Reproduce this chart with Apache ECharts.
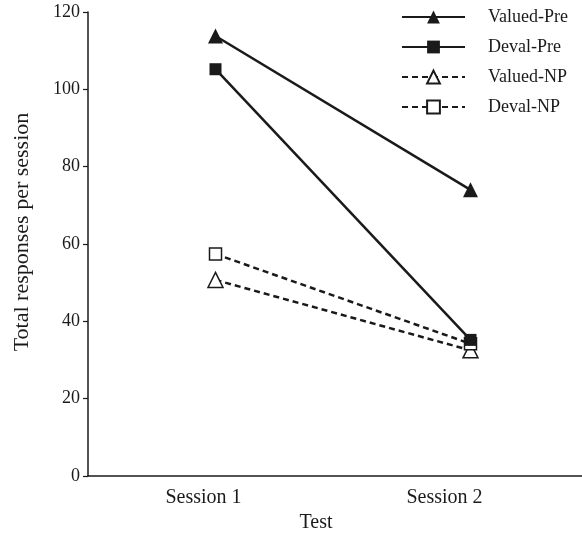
<!DOCTYPE html>
<html>
<head>
<meta charset="utf-8">
<script src="https://cdn.jsdelivr.net/npm/echarts@6/dist/echarts.min.js"></script>
<style>
  html, body { margin: 0; padding: 0; background: #fff; overflow: hidden; }
  #chart { width: 582px; height: 533px; }
</style>
</head>
<body>
<div id="chart"></div>
<script>
// data
var sessions = ['Session 1', 'Session 2'];
var seriesNames = ['Valued-Pre', 'Deval-Pre', 'Valued-NP', 'Deval-NP'];
var valuedPre = [113.8, 74];
var devalPre = [105.2, 35.2];
var valuedNP = [50.7, 32.5];
var devalNP = [57.4, 34.2];
var yTicks = [0, 20, 40, 60, 80, 100, 120];

var FONT = '"Liberation Serif", "DejaVu Serif", serif';
var INK = '#1a1a1a';

function makeSerie(name, data, symbol, filled, dashed) {
	return {
		name: name,
		type: 'line',
		data: data,
		symbol: symbol,
		symbolSize: symbol === 'triangle' ? 15 : 12,
		showSymbol: true,
		z: filled ? 3 : 2,
		itemStyle: {
			color: filled ? INK : '#fff',
			borderColor: INK,
			borderWidth: filled ? 0 : 1.5
		},
		lineStyle: {
			color: INK,
			width: 2.5,
			type: dashed ? [6, 4] : 'solid'
		},
		emphasis: { disabled: true },
		animation: false
	};
}

var chart = echarts.init(document.getElementById('chart'));
chart.setOption({
	backgroundColor: '#fff',
	textStyle: { fontFamily: FONT, color: INK },
	// plot runs past the right edge of the page, like the scanned figure
	grid: { left: 88, width: 510, top: 12, bottom: 57, containLabel: false, outerBoundsMode: 'none' },
	legend: {
		orient: 'vertical',
		left: 396,
		top: 3,
		itemWidth: 63,
		itemHeight: 16,
		itemGap: 12,
		data: seriesNames,
		textStyle: { fontFamily: FONT, fontSize: 18, color: INK, padding: [0, 0, 0, 18] }
	},
	xAxis: {
		type: 'category',
		data: sessions,
		boundaryGap: true,
		name: 'Test',
		nameLocation: 'middle',
		nameGap: 36,
		nameTextStyle: { fontFamily: FONT, fontSize: 20, color: INK, padding: [0, 54, 0, 0] },
		axisLine: { lineStyle: { color: INK, width: 1.5 } },
		axisTick: { show: false },
		splitLine: { show: false },
		axisLabel: {
			margin: 12,
			fontFamily: FONT,
			fontSize: 20,
			color: INK,
			formatter: function (v) {
				return v === 'Session 1' ? '{a|' + v + '}' : '{b|' + v + '}';
			},
			rich: {
				a: { fontFamily: FONT, fontSize: 20, color: INK, padding: [0, 24, 0, 0] },
				b: { fontFamily: FONT, fontSize: 20, color: INK, padding: [0, 52, 0, 0] }
			}
		}
	},
	yAxis: {
		type: 'value',
		min: yTicks[0],
		max: yTicks[yTicks.length - 1],
		interval: 20,
		name: 'Total responses per session',
		nameLocation: 'middle',
		nameGap: 55,
		nameTextStyle: { fontFamily: FONT, fontSize: 22, color: INK, padding: [0, 0, 0, 24] },
		axisLine: { show: true, lineStyle: { color: INK, width: 1.5 } },
		axisTick: { show: true, length: 5, lineStyle: { color: INK, width: 1.2 } },
		splitLine: { show: false },
		axisLabel: { margin: 8, fontFamily: FONT, fontSize: 18, color: INK }
	},
	series: [
		makeSerie(seriesNames[0], valuedPre, 'triangle', true, false),
		makeSerie(seriesNames[1], devalPre, 'rect', true, false),
		makeSerie(seriesNames[2], valuedNP, 'triangle', false, true),
		makeSerie(seriesNames[3], devalNP, 'rect', false, true)
	]
});
</script>
</body>
</html>
